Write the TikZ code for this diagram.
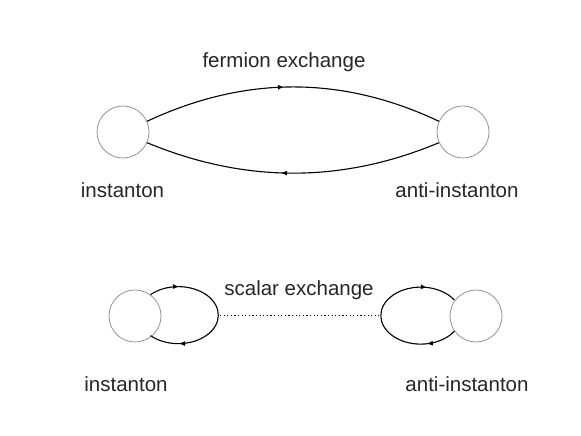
\documentclass[tikz,border=0pt]{standalone}
\usepackage{fontspec}
\setmainfont{Liberation Sans}
\usetikzlibrary{arrows.meta,decorations.markings}

\tikzset{
  blob/.style={circle, draw=gray!85, line width=0.8pt, minimum size=52pt, inner sep=0pt},
  lbl/.style={font=\fontsize{20.5}{24}\selectfont, text=black!85},
  prop/.style={line width=1.1pt},
  arrowat/.style={postaction={decorate}, decoration={markings,
      mark=at position #1 with {\arrow{Latex[length=6pt,width=5pt]}}}},
  arrowtwo/.style 2 args={postaction={decorate}, decoration={markings,
      mark=at position #1 with {\arrow{Latex[length=6pt,width=5pt]}},
      mark=at position #2 with {\arrow{Latex[length=6pt,width=5pt]}}}}
}

\begin{document}
\begin{tikzpicture}[x=1pt,y=1pt]
    \useasboundingbox (0,0) rectangle (581,436);

    % Fermion exchange
    \node[blob] (inst) at (123,304) {};
    \node[blob] (anti) at (463,304) {};
    \node[lbl] (ftitle) at (284,374) {fermion exchange};
    \node[lbl] (instlbl) at (122.5,246) {instanton};
    \node[lbl] (antilbl) at (457,246) {anti-instanton};

    \draw[prop, arrowat=0.47] (inst.24) .. controls (245,360.5) and (342,360.5) .. (anti.156);
    \draw[prop, arrowat=0.54] (anti.-156) .. controls (342,252.7) and (245,252.7) .. (inst.-24);

    % Scalar exchange
    \node[blob] (sinst) at (135,120) {};
    \node[blob] (santi) at (476,120) {};
    \node[lbl] (stitle) at (299,146) {scalar exchange};
    \node[lbl] (sinstlbl) at (126,52) {instanton};
    \node[lbl] (santilbl) at (467,52) {anti-instanton};

    \coordinate (lend) at (220,120.5);
    \coordinate (rend) at (379,120.5);

    \draw[prop, arrowtwo={0.18}{0.82}] (sinst.54)
        arc[start angle=134, end angle=-134, x radius=40, y radius=28.5];
    \draw[prop, arrowtwo={0.17}{0.83}] (santi.-145)
        arc[start angle=-33, end angle=-327, x radius=40, y radius=28.5];

    \draw[line width=1pt, dash pattern=on 1.2pt off 2.4pt] (lend) -- (rend);
\end{tikzpicture}
\end{document}
